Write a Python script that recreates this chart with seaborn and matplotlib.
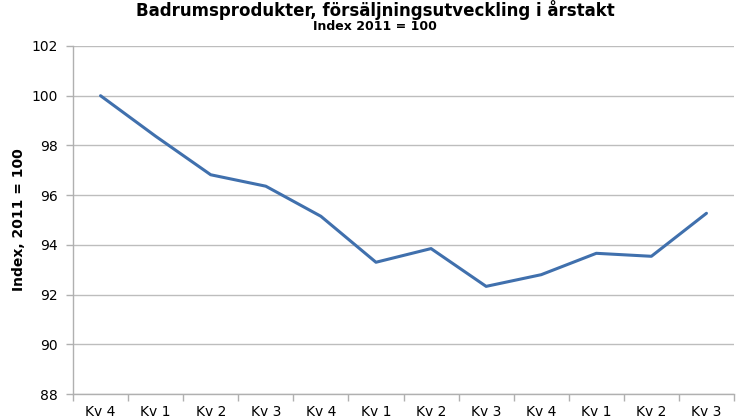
import numpy as np
import pandas as pd
import matplotlib
matplotlib.use("Agg")
import matplotlib.pyplot as plt
import seaborn as sns
from matplotlib.ticker import FixedLocator

quarters = ["Kv 4", "Kv 1", "Kv 2", "Kv 3", "Kv 4", "Kv 1", "Kv 2", "Kv 3",
            "Kv 4", "Kv 1", "Kv 2", "Kv 3"]
index_values = [100.0, 98.37, 96.82, 96.36, 95.15, 93.30, 93.85, 92.33,
                92.80, 93.66, 93.54, 95.27]
y_ticks = [88, 90, 92, 94, 96, 98, 100, 102]

sns.set_theme(style="white")
plt.rcParams['font.family'] = ['DejaVu Sans']
plt.rcParams['text.color'] = 'black'
plt.rcParams['axes.labelcolor'] = 'black'

df = pd.DataFrame({"pos": np.arange(len(quarters)), "value": index_values})

fig = plt.figure(figsize=(7.46, 4.19), dpi=100)
ax = fig.add_axes([73 / 746, 1 - 394 / 419, (734 - 73) / 746, (394 - 46) / 419])

sns.lineplot(data=df, x="pos", y="value", ax=ax, color="#4070AD", linewidth=2.2)

ax.set_xlim(-0.5, len(quarters) - 0.5)
ax.set_ylim(88, 102)
ax.set_yticks(y_ticks)
ax.set_yticklabels([str(t) for t in y_ticks], fontsize=10, color="black")
ax.set_xticks(np.arange(len(quarters)))
ax.set_xticklabels(quarters, fontsize=10, color="black")
ax.xaxis.set_minor_locator(FixedLocator(np.arange(len(quarters) + 1) - 0.5))
ax.tick_params(axis="x", which="major", length=0, pad=8)
ax.tick_params(axis="x", which="minor", length=5, color="#B0B0B0", width=1, direction="out", bottom=True)
ax.tick_params(axis="y", which="major", length=5, color="#B0B0B0", width=1, direction="out", left=True, pad=6)

ax.grid(axis="y", color="#BDBDBD", linewidth=1)
ax.set_axisbelow(True)
for s in ["top", "right"]:
    ax.spines[s].set_visible(False)
for s in ["left", "bottom"]:
    ax.spines[s].set_color("#B0B0B0")
    ax.spines[s].set_linewidth(1)

ax.set_xlabel("")
ax.set_ylabel("Index, 2011 = 100", fontsize=10, fontweight="bold", labelpad=4, color="black")

fig.text(0.503, 1 - 16 / 419, "Badrumsprodukter, försäljningsutveckling i årstakt",
         ha="center", va="baseline", fontsize=12, fontweight="bold", color="black")
fig.text(0.503, 1 - 30 / 419, "Index 2011 = 100", ha="center", va="baseline",
         fontsize=9, fontweight="bold", color="black")

fig.savefig("out.png", dpi=100)
